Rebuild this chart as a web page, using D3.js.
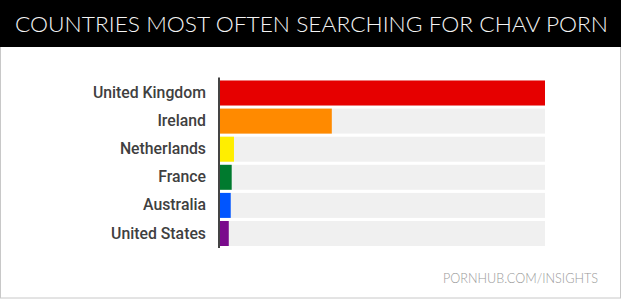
<!DOCTYPE html>
<html>
<head>
<meta charset="utf-8">
<script src="https://cdn.jsdelivr.net/npm/d3@7"></script>
<style>
  body { margin: 0; background: #fff; }
  svg { display: block; }
</style>
</head>
<body>
<svg id="chart"></svg>
<script>
var countries = ["United Kingdom", "Ireland", "Netherlands", "France", "Australia", "United States"];
var values = [100, 34.4, 4.3, 3.6, 3.3, 2.7];
var colors = ["#e60000", "#ff8a00", "#ffee00", "#007a2e", "#0055ff", "#7a0a8c"];

var W = 623, H = 300;
var svg = d3.select("#chart").attr("width", W).attr("height", H);

// frame + header
svg.append("rect")
    .attr("x", 0.5).attr("y", 0.5)
    .attr("width", 620).attr("height", 297.5)
    .attr("fill", "#fff").attr("stroke", "#c8c8c8");

svg.append("rect")
    .attr("x", 0).attr("y", 0)
    .attr("width", 621).attr("height", 47)
    .attr("fill", "#000");

svg.append("text")
    .attr("x", 15).attr("y", 31.5)
    .attr("textLength", 593)
    .attr("lengthAdjust", "spacingAndGlyphs")
    .style("font-family", "Lato, 'Open Sans', sans-serif")
    .style("font-weight", 300)
    .style("font-size", "21px")
    .attr("fill", "#f4f4f4")
    .text("COUNTRIES MOST OFTEN SEARCHING FOR CHAV PORN");

var margin = {top: 80.5, left: 220, right: 78};
var plotW = W - margin.left - margin.right;

var x = d3.scaleLinear().domain([0, 100]).range([0, plotW]);
var y = d3.scaleBand().domain(countries).range([0, 165.5]).paddingInner(0.11).paddingOuter(0);

var g = svg.append("g")
    .attr("transform", "translate(" + margin.left + "," + margin.top + ")");

// grey tracks
g.selectAll(".track")
    .data(countries)
    .enter()
    .append("rect")
    .attr("class", "track")
    .attr("x", 0)
    .attr("y", function(d){ return y(d); })
    .attr("width", x(100))
    .attr("height", y.bandwidth())
    .attr("fill", "#f0f0f0");

g.selectAll(".bar")
    .data(values)
    .enter()
    .append("rect")
    .attr("class", "bar")
    .attr("x", 0)
    .attr("y", function(d, i){ return y(countries[i]); })
    .attr("width", function(d){ return x(d); })
    .attr("height", y.bandwidth())
    .attr("fill", function(d, i){ return colors[i]; });

var axis = g.append("g")
    .call(d3.axisLeft(y).tickSize(0).tickPadding(14));

axis.select(".domain")
    .attr("d", "M-1,-3V" + (y.range()[1] + 2))
    .attr("stroke", "#444")
    .attr("stroke-width", 2);

axis.selectAll("text")
    .style("font-family", "Roboto, sans-serif")
    .style("font-weight", 500)
    .style("font-size", "15.8px")
    .attr("fill", "#404040");

svg.append("text")
    .attr("x", 598).attr("y", 283)
    .attr("text-anchor", "end")
    .attr("textLength", 155)
    .attr("lengthAdjust", "spacingAndGlyphs")
    .style("font-family", "Lato, 'Open Sans', sans-serif")
    .style("font-weight", 300)
    .style("font-size", "14px")
    .attr("fill", "#999")
    .text("PORNHUB.COM/INSIGHTS");
</script>
</body>
</html>
